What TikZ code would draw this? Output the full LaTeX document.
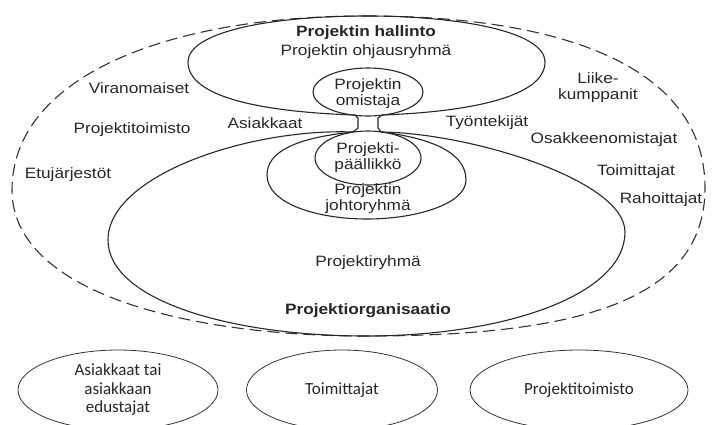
\documentclass[tikz,border=0pt]{standalone}
\usepackage{fontspec}
\setmainfont{Liberation Sans}[FakeStretch=1.15]
\newfontfamily\calfont{Carlito}
\usetikzlibrary{shapes.geometric}
\begin{document}
\begin{tikzpicture}[x=1pt,y=-1pt,
  ink/.style={draw=black!85, line width=1.1pt},
  outer/.style={draw=black!80, line width=1.1pt, dash pattern=on 12pt off 6pt},
  lbl/.style={font=\fontsize{15}{16}\selectfont, text=black!85, align=center, inner sep=0pt},
  blbl/.style={lbl, font=\fontsize{15}{16}\selectfont\bfseries},
  grp/.style={ellipse, draw=black!80, line width=0.8pt, inner sep=0pt,
    font=\calfont\fontsize{17}{18.5}\selectfont, text=black!85, align=center}
]
\useasboundingbox (0,0) rectangle (712,424);
\clip (0,0) rectangle (712,424);

% stakeholder boundary
\draw[outer] (366,16) .. controls (570,16) and (705,70) .. (705,188)
  .. controls (705,300) and (580,336) .. (366,336)
  .. controls (180,336) and (12,290) .. (12,190)
  .. controls (12,80) and (160,16) .. cycle;

% steering level
\draw[ink] (355,115) .. controls (265,112) and (188,98) .. (188,62)
  .. controls (188,32) and (270,16) .. (366,16)
  .. controls (462,16) and (545,32) .. (545,62)
  .. controls (545,98) and (465,112) .. (382,115);
\draw[ink] (368,92) ellipse [x radius=55, y radius=24];

% passage between the two levels
\draw[ink] (355,115) -- (358,118) -- (358,128) -- (353,132);
\draw[ink] (382,115) -- (378,118) -- (378,128) -- (381,132);

% project organisation
\draw[ink] (353,132) .. controls (250,128) and (108,175) .. (108,240)
  .. controls (108,300) and (230,336) .. (366,336)
  .. controls (505,336) and (625,295) .. (625,232)
  .. controls (625,180) and (470,133) .. (381,132);
\draw[ink] (353,132) .. controls (295,138) and (267,152) .. (267,175)
  .. controls (267,204) and (318,219) .. (367,219)
  .. controls (416,219) and (466,204) .. (466,180)
  .. controls (466,152) and (430,138) .. (381,132);
\draw[ink] (368,158) ellipse [x radius=53, y radius=27];

% labels
\node[blbl] (hallinto) at (366,33) {Projektin hallinto};
\node[lbl] (ohjaus) at (366,52) {Projektin ohjausryhmä};
\node[lbl] (omistaja) at (368,94) {Projektin\\omistaja};
\node[lbl] (viran) at (139,88) {Viranomaiset};
\node[lbl] (ptoimisto) at (132,130) {Projektitoimisto};
\node[lbl] (etu) at (68,175) {Etujärjestöt};
\node[lbl] (asiakkaat) at (265,123) {Asiakkaat};
\node[lbl] (tyontekijat) at (487,123) {Työntekijät};
\node[lbl] (liike) at (598,88) {Liike-\\kumppanit};
\node[lbl] (osakk) at (604,140) {Osakkeenomistajat};
\node[lbl] (toim) at (636,172) {Toimittajat};
\node[lbl] (rahoit) at (661,200) {Rahoittajat};
\node[lbl] (paallikko) at (368,158) {Projekti-\\päällikkö};
\node[lbl] (johto) at (368,199) {Projektin\\johtoryhmä};
\node[lbl] (pryhma) at (368,263) {Projektiryhmä};
\node[blbl] (porg) at (368,311) {Projektiorganisaatio};

% groups listed below
\node[grp, minimum width=200pt, minimum height=80pt] (g1) at (118,390)
  {Asiakkaat tai\\asiakkaan\\edustajat};
\node[grp, minimum width=191pt, minimum height=80pt] (g2) at (342,390) {Toimittajat};
\node[grp, minimum width=218pt, minimum height=80pt] (g3) at (579,390) {Projektitoimisto};
\end{tikzpicture}
\end{document}
